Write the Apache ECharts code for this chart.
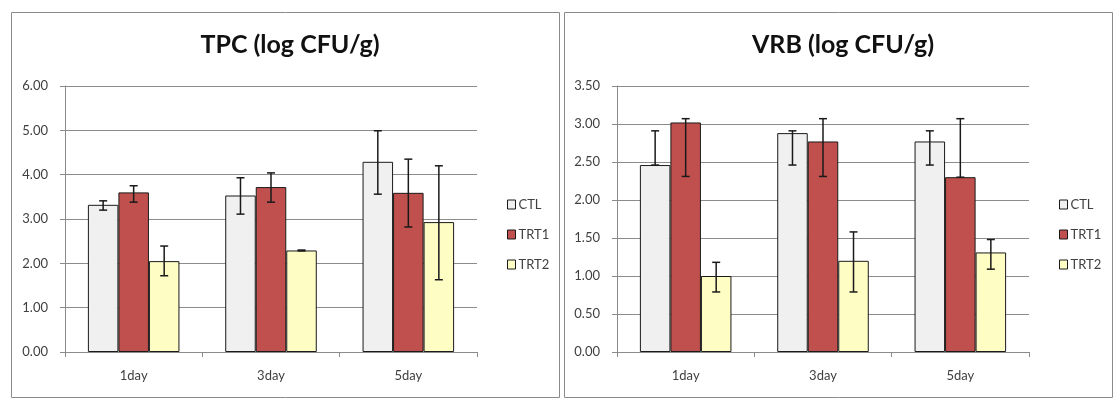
<!DOCTYPE html>
<html>
<head>
<meta charset="utf-8">
<script src="https://cdn.jsdelivr.net/npm/echarts@6/dist/echarts.min.js"></script>
<style>
html,body{margin:0;padding:0;background:#fff;}
#chart{width:1118px;height:414px;}
</style>
</head>
<body>
<div id="chart"></div>
<script>
// ---- data ----
const categories = ['1day', '3day', '5day'];
const seriesNames = ['CTL', 'TRT1', 'TRT2'];
const tpcTicks = [0, 1, 2, 3, 4, 5, 6];
const vrbTicks = [0, 0.5, 1, 1.5, 2, 2.5, 3, 3.5];

// TPC (log CFU/g)
const tpcCTL  = [3.32, 3.53, 4.29];
const tpcTRT1 = [3.60, 3.72, 3.59];
const tpcTRT2 = [2.05, 2.29, 2.93];
const tpcCTLLow   = [3.20, 3.11, 3.56];
const tpcCTLHigh  = [3.41, 3.93, 4.99];
const tpcTRT1Low  = [3.38, 3.38, 2.82];
const tpcTRT1High = [3.75, 4.04, 4.35];
const tpcTRT2Low  = [1.72, 2.28, 1.63];
const tpcTRT2High = [2.39, 2.30, 4.20];

// VRB (log CFU/g)
const vrbCTL  = [2.46, 2.88, 2.77];
const vrbTRT1 = [3.02, 2.77, 2.30];
const vrbTRT2 = [1.00, 1.20, 1.31];
const vrbCTLLow   = [2.46, 2.46, 2.46];
const vrbCTLHigh  = [2.91, 2.91, 2.91];
const vrbTRT1Low  = [2.31, 2.31, 2.30];
const vrbTRT1High = [3.07, 3.07, 3.07];
const vrbTRT2Low  = [0.79, 0.79, 1.09];
const vrbTRT2High = [1.18, 1.58, 1.48];

// ---- styling ----
const FONT = 'Lato, "Liberation Sans", sans-serif';
const colors = ['#f0f0f0', '#c0504d', '#fdfdc4'];
const gridColor = '#8c8c8c';
const textColor = '#404040';

const tpcVals = [tpcCTL, tpcTRT1, tpcTRT2];
const tpcLows = [tpcCTLLow, tpcTRT1Low, tpcTRT2Low];
const tpcHighs = [tpcCTLHigh, tpcTRT1High, tpcTRT2High];
const vrbVals = [vrbCTL, vrbTRT1, vrbTRT2];
const vrbLows = [vrbCTLLow, vrbTRT1Low, vrbTRT2Low];
const vrbHighs = [vrbCTLHigh, vrbTRT1High, vrbTRT2High];

function barSeries(axisIdx, vals) {
  return seriesNames.map((name, i) => ({
    type: 'bar',
    name: name,
    xAxisIndex: axisIdx,
    yAxisIndex: axisIdx,
    data: vals[i],
    barWidth: '22.22%',
    barGap: '0%',
    itemStyle: { color: colors[i], borderColor: '#1a1a1a', borderWidth: 1 },
    emphasis: { disabled: true },
    z: 2
  }));
}

function errSeries(axisIdx, lows, highs) {
  return seriesNames.map((name, k) => ({
    type: 'custom',
    name: name + ' err',
    xAxisIndex: axisIdx,
    yAxisIndex: axisIdx,
    z: 5,
    silent: true,
    encode: { x: 0, y: [1, 2] },
    data: categories.map((c, j) => [j, lows[k][j], highs[k][j]]),
    renderItem: function (params, api) {
      const x = api.value(0);
      const lo = api.coord([x, api.value(1)]);
      const hi = api.coord([x, api.value(2)]);
      const catW = api.size([1, 0])[0];
      const bw = catW / 4.5;
      const cx = lo[0] + (k - 1) * bw;
      const cap = 4;
      const st = { stroke: '#1a1a1a', lineWidth: 1.5 };
      return {
        type: 'group',
        children: [
          { type: 'line', shape: { x1: cx, y1: hi[1], x2: cx, y2: lo[1] }, style: st },
          { type: 'line', shape: { x1: cx - cap, y1: hi[1], x2: cx + cap, y2: hi[1] }, style: st },
          { type: 'line', shape: { x1: cx - cap, y1: lo[1], x2: cx + cap, y2: lo[1] }, style: st }
        ]
      };
    }
  }));
}

function xAxis(gridIndex) {
  return {
    type: 'category',
    gridIndex: gridIndex,
    data: categories,
    axisLine: { lineStyle: { color: gridColor, width: 1 } },
    axisTick: { show: true, length: 5, lineStyle: { color: gridColor } },
    axisLabel: { color: textColor, fontSize: 13, fontFamily: FONT, margin: 17 }
  };
}
function yAxis(gridIndex, max, interval) {
  return {
    type: 'value',
    gridIndex: gridIndex,
    min: 0, max: max, interval: interval,
    axisLine: { show: true, lineStyle: { color: gridColor, width: 1 } },
    axisTick: { show: true, length: 5, lineStyle: { color: gridColor } },
    splitLine: { lineStyle: { color: gridColor, width: 1 } },
    axisLabel: { color: textColor, fontSize: 13, fontFamily: FONT, margin: 17,
      formatter: v => v.toFixed(2) }
  };
}
function legend(left) {
  return {
    data: seriesNames,
    orient: 'vertical',
    left: left, top: 193,
    itemWidth: 8, itemHeight: 9, itemGap: 17,
    icon: 'rect',
    selectedMode: false,
    itemStyle: { borderColor: '#1a1a1a', borderWidth: 1 },
    textStyle: { color: textColor, fontSize: 13, fontFamily: FONT, padding: [0, 0, 0, -2] }
  };
}

const chart = echarts.init(document.getElementById('chart'), null, { renderer: 'canvas' });
chart.setOption({
  animation: false,
  backgroundColor: '#ffffff',
  title: [
    { text: 'TPC (log CFU/g)', left: 285, top: 27, textAlign: 'center',
      textStyle: { fontFamily: FONT, fontWeight: 'bold', fontSize: 25, color: '#111' } },
    { text: 'VRB (log CFU/g)', left: 838, top: 27, textAlign: 'center',
      textStyle: { fontFamily: FONT, fontWeight: 'bold', fontSize: 25, color: '#111' } }
  ],
  legend: [legend(502), legend(1054)],
  grid: [
    { left: 65, top: 86, width: 412, height: 266 },
    { left: 617, top: 86, width: 412, height: 266 }
  ],
  xAxis: [xAxis(0), xAxis(1)],
  yAxis: [yAxis(0, tpcTicks[tpcTicks.length - 1], tpcTicks[1] - tpcTicks[0]),
          yAxis(1, vrbTicks[vrbTicks.length - 1], vrbTicks[1] - vrbTicks[0])],
  graphic: [
    { type: 'rect', silent: true, shape: { x: 11.5, y: 12.5, width: 548, height: 385 },
      style: { fill: 'none', stroke: '#8a8a8a', lineWidth: 1 }, z: 0 },
    { type: 'rect', silent: true, shape: { x: 564.5, y: 12.5, width: 548, height: 385 },
      style: { fill: 'none', stroke: '#8a8a8a', lineWidth: 1 }, z: 0 }
  ],
  series: [].concat(
    barSeries(0, tpcVals), errSeries(0, tpcLows, tpcHighs),
    barSeries(1, vrbVals), errSeries(1, vrbLows, vrbHighs)
  )
});
</script>
</body>
</html>
